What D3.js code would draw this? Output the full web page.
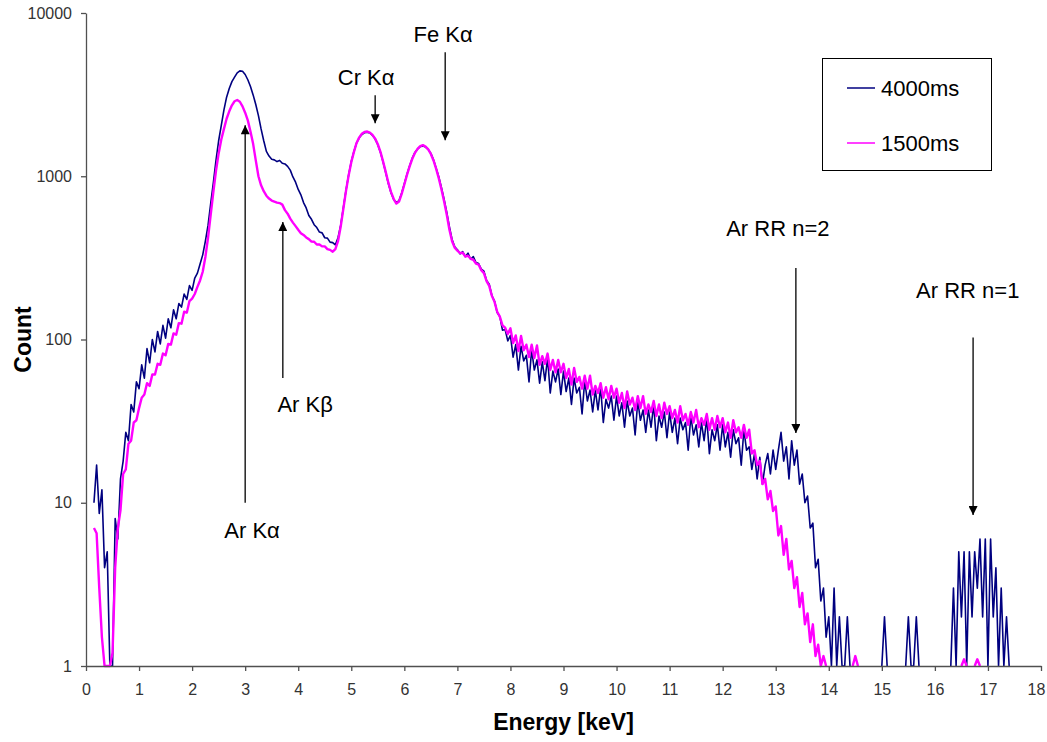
<!DOCTYPE html>
<html>
<head>
<meta charset="utf-8">
<script src="https://cdn.jsdelivr.net/npm/d3@7"></script>
<style>
  body { margin: 0; background: #fff; }
  text { font-family: "Liberation Sans", Arial, sans-serif; }
</style>
</head>
<body>
<div id="chart"></div>
<script>
// Spectrum channels: energy = START_KEV + i * STEP_KEV (one row per keV, 20 channels each)
const START_KEV = 0;
const STEP_KEV = 0.05;

// 4000ms acquisition (0 = no counts, left as a gap on the log axis)
const counts4000 = [
  0, 0, 0, 10, 17, 8.6, 12, 4, 5, 1, 1, 8, 6, 14, 18, 27, 24, 40, 36, 55,
  50, 70, 58, 88, 72, 100, 84, 112, 94, 122, 102, 134, 118, 152, 134, 166, 158, 190, 176, 214,
  200, 238, 255, 290, 330, 400, 500, 680, 910, 1250, 1650, 2050, 2550, 3050, 3450, 3800, 4050, 4300, 4420, 4400,
  4200, 3900, 3550, 3150, 2750, 2350, 1950, 1650, 1420, 1330, 1270, 1260, 1230, 1250, 1200, 1190, 1150, 1090, 990, 920,
  830, 770, 690, 640, 575, 545, 505, 485, 455, 450, 420, 418, 395, 392, 380, 420, 500, 640, 820, 1020,
  1230, 1420, 1600, 1720, 1800, 1850, 1860, 1840, 1780, 1690, 1560, 1400, 1220, 1050, 900, 790, 720, 690, 710, 790,
  900, 1030, 1160, 1290, 1400, 1470, 1520, 1530, 1510, 1460, 1380, 1260, 1120, 990, 850, 720, 600, 490, 410, 370,
  355, 335, 345, 322, 338, 310, 322, 296, 292, 270, 262, 230, 218, 186, 172, 146, 138, 114, 115, 98,
  106, 78, 93, 65, 91, 74, 80, 55, 87, 65, 75, 54, 73, 56, 77, 47, 64, 55, 66, 46,
  64, 48, 58, 40, 58, 47, 51, 35, 56, 42, 49, 36, 49, 37, 51, 31, 43, 38, 45, 32,
  45, 34, 41, 29, 42, 34, 38, 26, 42, 32, 37, 27, 37, 29, 40, 24, 34, 29, 36, 25,
  36, 27, 33, 23, 33, 28, 31, 21, 34, 26, 30, 22, 31, 24, 33, 20, 28, 24, 30, 21,
  30, 22, 27, 19, 28, 23, 25, 17, 28, 21, 22, 16, 20, 14, 19, 13, 17, 20, 15, 21,
  16, 21, 27, 18, 22, 14, 24, 17, 21, 13, 15, 10, 11, 7, 7.5, 4, 4.5, 2.5, 3, 1.5,
  2, 1, 3, 1, 2, 1, 1, 2, 1, 0, 0, 0, 0, 0, 0, 0, 0, 0, 0, 0,
  1, 2, 1, 0, 0, 0, 0, 0, 0, 1, 2, 1, 1, 2, 1, 0, 0, 0, 0, 0,
  0, 0, 0, 0, 0, 0, 1, 3, 1, 5, 2, 5, 1, 5, 2, 5, 3, 6, 2, 6,
  1, 6, 2, 4, 1, 3, 1, 2, 1, 0, 0, 0, 0, 0, 0, 0, 0, 0, 0, 0
];

// 1500ms acquisition
const counts1500 = [
  0, 0, 0, 7, 6.5, 3, 1.5, 1, 1, 1, 1.2, 4, 7, 9, 15, 16, 23, 24, 31, 32,
  38, 44, 46, 54, 52, 61, 61, 71, 70, 82, 80, 94, 93, 109, 107, 126, 125, 148, 146, 172,
  178, 190, 210, 230, 260, 320, 420, 580, 800, 1080, 1380, 1680, 1950, 2250, 2500, 2720, 2880, 2930, 2860, 2680,
  2450, 2200, 1880, 1580, 1250, 1000, 880, 810, 760, 730, 710, 700, 690, 685, 670, 620, 590, 550, 520, 495,
  470, 448, 437, 422, 412, 398, 397, 382, 382, 372, 372, 358, 354, 345, 358, 400, 490, 630, 810, 1010,
  1220, 1410, 1600, 1730, 1820, 1870, 1880, 1850, 1790, 1700, 1570, 1410, 1230, 1060, 910, 800, 725, 680, 700, 780,
  890, 1020, 1150, 1280, 1390, 1470, 1530, 1550, 1520, 1460, 1370, 1250, 1110, 970, 830, 700, 580, 470, 400, 365,
  350, 338, 340, 322, 326, 312, 308, 292, 288, 266, 255, 228, 213, 185, 170, 148, 138, 122, 118, 108,
  117, 95, 106, 85, 105, 86, 93, 78, 93, 77, 92, 70, 79, 71, 82, 65, 75, 63, 75, 63,
  71, 58, 66, 53, 67, 55, 59, 50, 60, 50, 60, 46, 52, 47, 54, 44, 51, 43, 52, 44,
  50, 41, 47, 38, 48, 40, 44, 37, 45, 38, 45, 35, 40, 36, 42, 34, 40, 33, 41, 35,
  39, 33, 37, 31, 39, 32, 35, 30, 36, 31, 37, 29, 33, 30, 35, 28, 33, 28, 34, 29,
  33, 27, 31, 25, 32, 27, 29, 25, 30, 25, 28, 20, 21, 17, 18, 13, 14, 10.5, 11.8, 8.9,
  9.5, 6.3, 7.2, 4.8, 6, 3.9, 4.4, 3, 3.5, 2.3, 2.8, 1.8, 2.1, 1.4, 1.8, 1.15, 1.35, 1, 1.15, 1,
  0, 0, 0, 0, 0, 0, 0, 0, 0, 1, 1.15, 1, 0, 0, 0, 0, 0, 0, 0, 0,
  0, 0, 0, 0, 0, 0, 0, 0, 0, 0, 0, 0, 0, 0, 0, 0, 0, 0, 0, 0,
  0, 0, 0, 0, 0, 0, 0, 0, 0, 0, 1, 1.1, 1, 0, 0, 1, 1.1, 1, 0, 0,
  0, 0, 0, 0, 0, 0, 0, 0, 0, 0, 0, 0, 0, 0, 0, 0, 0, 0, 0, 0
];

const seriesNames = ["4000ms", "1500ms"];
const seriesColors = ["#000080", "#ff00ff"];

const xTicks = d3.range(0, 19);
const yTicks = [1, 10, 100, 1000, 10000];

// Peak annotations: arrow at energy e from count `from` to count `to`, label at (lx, ly)
const annotations = [
  { label: "Ar K\u03b1", e: 3.0, from: 10, to: 2050, lx: 3.13, ly: 6.1 },
  { label: "Ar K\u03b2", e: 3.71, from: 58, to: 524, lx: 4.13, ly: 36 },
  { label: "Cr K\u03b1", e: 5.45, from: 3140, to: 2115, lx: 5.28, ly: 3610 },
  { label: "Fe K\u03b1", e: 6.77, from: 5750, to: 1664, lx: 6.73, ly: 6630 },
  { label: "Ar RR n=2", e: 13.38, from: 274, to: 26.7, lx: 13.04, ly: 430 },
  { label: "Ar RR n=1", e: 16.72, from: 103, to: 8.4, lx: 16.62, ly: 179 }
];

const width = 1047, height = 742;

const svg = d3.select("#chart")
  .append("svg")
  .attr("width", width)
  .attr("height", height);

const x = d3.scaleLinear().domain([0, 18]).range([86, 1041]);
const y = d3.scaleLog().domain([1, 10000]).range([666, 13]);

// series
const series = [counts4000, counts1500].map((vals, k) => ({
  name: seriesNames[k],
  color: seriesColors[k],
  points: vals.map((v, i) => ({ e: START_KEV + i * STEP_KEV, v: v }))
}));

const line = d3.line()
  .defined(d => d.v > 0)
  .x(d => x(d.e))
  .y(d => y(d.v));

svg.append("g")
  .selectAll("path")
  .data(series)
  .enter()
  .append("path")
  .attr("d", d => line(d.points))
  .attr("fill", "none")
  .attr("stroke", d => d.color)
  .attr("stroke-width", (d, i) => i === 0 ? 1.6 : 2.4)
  .attr("stroke-linejoin", "round");

// axes
const xAxis = svg.append("g")
  .attr("transform", `translate(0,${y(1)})`)
  .call(d3.axisBottom(x).tickValues(xTicks).tickSize(5).tickSizeOuter(0).tickPadding(13));

const yAxis = svg.append("g")
  .attr("transform", `translate(${x(0)},0)`)
  .call(d3.axisLeft(y).tickValues(yTicks).tickFormat(d3.format("d")).tickSize(5).tickSizeOuter(0).tickPadding(9));

[xAxis, yAxis].forEach(g => {
  g.select(".domain").attr("stroke", "#505050").attr("stroke-width", 1.3);
  g.selectAll(".tick line").attr("stroke", "#505050").attr("stroke-width", 1.3);
  g.selectAll(".tick text")
    .attr("fill", "#333")
    .style("font-size", "16px")
    .style("font-family", "'Liberation Sans', Arial, sans-serif");
});

// keep the last x label inside the page
xAxis.selectAll(".tick text").filter(d => d === 18).attr("dx", -5);

// axis titles
svg.append("text")
  .attr("x", (x(0) + x(18)) / 2)
  .attr("y", 730)
  .attr("text-anchor", "middle")
  .style("font-size", "23px")
  .style("font-weight", "bold")
  .text("Energy [keV]");

svg.append("text")
  .attr("transform", `translate(31,${(y(1) + y(10000)) / 2}) rotate(-90)`)
  .attr("text-anchor", "middle")
  .style("font-size", "23px")
  .style("font-weight", "bold")
  .text("Count");

// arrow marker
svg.append("defs").append("marker")
  .attr("id", "arrow")
  .attr("viewBox", "0 0 10 10")
  .attr("refX", 10)
  .attr("refY", 5)
  .attr("markerWidth", 11)
  .attr("markerHeight", 9)
  .attr("markerUnits", "userSpaceOnUse")
  .attr("orient", "auto")
  .append("path")
  .attr("d", "M0,0 L10,5 L0,10 Z")
  .attr("fill", "#000");

const ann = svg.append("g").selectAll("g")
  .data(annotations)
  .enter()
  .append("g");

ann.append("line")
  .attr("x1", d => x(d.e))
  .attr("x2", d => x(d.e))
  .attr("y1", d => y(d.from))
  .attr("y2", d => y(d.to))
  .attr("stroke", "#000")
  .attr("stroke-width", 1.3)
  .attr("marker-end", "url(#arrow)");

ann.append("text")
  .attr("x", d => x(d.lx))
  .attr("y", d => y(d.ly))
  .attr("text-anchor", "middle")
  .style("font-size", "22px")
  .style("fill", "#000")
  .text(d => d.label);

// legend
const legend = svg.append("g");
legend.append("rect")
  .attr("x", 822.5)
  .attr("y", 58.5)
  .attr("width", 169)
  .attr("height", 112)
  .attr("fill", "#fff")
  .attr("stroke", "#000")
  .attr("stroke-width", 1);

const item = legend.selectAll("g.item")
  .data(series)
  .enter()
  .append("g")
  .attr("class", "item")
  .attr("transform", (d, i) => `translate(0,${88 + i * 55})`);

item.append("line")
  .attr("x1", 847)
  .attr("x2", 875)
  .attr("stroke", d => d.color)
  .attr("stroke-width", 1.5);

item.append("text")
  .attr("x", 881)
  .attr("dy", "0.36em")
  .style("font-size", "22px")
  .text(d => d.name);
</script>
</body>
</html>
